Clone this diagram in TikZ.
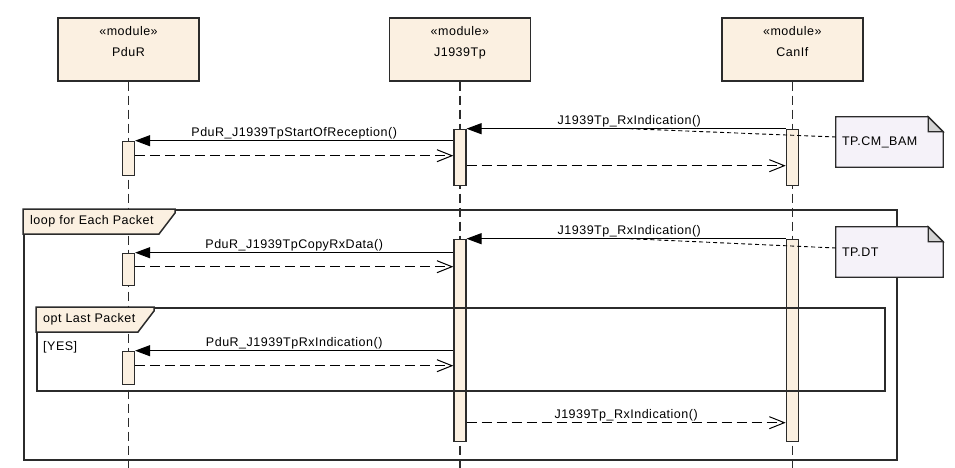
\documentclass[tikz,border=0pt]{standalone}
\usepackage{fontspec}
\newfontfamily\umlfont[LetterSpace=4]{Liberation Sans}
\usepackage{xcolor}
\usetikzlibrary{arrows.meta, positioning, calc}

\definecolor{lifebg}{HTML}{FBF0E1}
\definecolor{notebg}{HTML}{F5F2F9}
\definecolor{foldgray}{HTML}{D3D3D3}
\definecolor{framegray}{HTML}{2B2B2B}

\begin{document}
\begin{tikzpicture}[
  x=1pt, y=-1pt,
  font=\umlfont\fontsize{12.5}{15}\selectfont,
  node distance=189pt,
  head/.style={rectangle, draw=framegray, line width=1.4pt, fill=lifebg,
               minimum width=141pt, minimum height=63pt, align=center,
               font=\umlfont\fontsize{12.5}{21}\selectfont},
  bar/.style={rectangle, draw=framegray, line width=1.2pt, fill=lifebg,
              minimum width=12pt, inner sep=0pt, anchor=north},
  life/.style={framegray, line width=1.2pt, dash pattern=on 9pt off 5pt},
  call/.style={black, line width=1pt, -{Triangle[length=15pt, width=11pt]}},
  ret/.style={black, line width=1pt, dash pattern=on 10pt off 5pt,
              -{Straight Barb[length=15pt, width=12pt]}},
  msg/.style={above, inner sep=1pt},
  fragment/.style={rectangle, draw=framegray, line width=1.5pt,
                   anchor=north west, inner sep=0pt},
  tag/.style={draw=framegray, line width=1.5pt, fill=lifebg},
  tagtext/.style={anchor=west, inner sep=0pt},
  note/.style={rectangle, fill=notebg, minimum width=107pt,
               minimum height=50pt, text width=95pt, align=left,
               inner xsep=6pt},
  notebox/.style={draw=framegray, line width=1.3pt},
  notelink/.style={black, line width=0.9pt, dash pattern=on 4pt off 3pt},
]
  \useasboundingbox (0,0) rectangle (955,468);
  \coordinate (bottom) at (0,468);

  % lifeline heads
  \node[head] (pdur) at (128.5,49.5) {«module»\\PduR\\[-5pt]\mbox{}};
  \node[head, right=of pdur] (tp) {«module»\\J1939Tp\\[-5pt]\mbox{}};
  \node[head, right=190pt of tp] (canif) {«module»\\CanIf\\[-5pt]\mbox{}};

  \foreach \h in {pdur,tp,canif}
    \draw[life] (\h.south) -- (\h.south |- bottom);

  % activations
  \node[bar, minimum height=56pt] (tpA) at ([yshift=-47pt]tp.south) {};
  \node[bar, minimum height=56pt] (canA) at ([yshift=-47pt]canif.south) {};
  \node[bar, minimum height=34pt] (pdurA) at ([yshift=-59pt]pdur.south) {};
  \node[bar, minimum height=202pt] (tpB) at ([yshift=-157pt]tp.south) {};
  \node[bar, minimum height=202pt] (canB) at ([yshift=-157pt]canif.south) {};
  \node[bar, minimum height=32pt] (pdurB) at ([yshift=-171pt]pdur.south) {};
  \node[bar, minimum height=33pt] (pdurC) at ([yshift=-269pt]pdur.south) {};

  % combined fragments
  \node[fragment, minimum width=873pt, minimum height=250pt] (loop) at (23,209) {};
  \draw[tag] (loop.north west) -- ++(152,0) -- ++(0,4) -- ++(-16,21)
    -- ++(-136,0) -- cycle;
  \node[tagtext] (looplbl) at ([xshift=7pt, yshift=-12.5pt]loop.north west)
    {loop for Each Packet};

  \node[fragment, minimum width=848pt, minimum height=83pt] (opt) at (36,307) {};
  \draw[tag] (opt.north west) -- ++(118,0) -- ++(0,4) -- ++(-16,21)
    -- ++(-102,0) -- cycle;
  \node[tagtext] (optlbl) at ([xshift=7pt, yshift=-12.5pt]opt.north west)
    {opt Last Packet};
  \node[tagtext] (yes) at ([xshift=7pt, yshift=-40pt]opt.north west) {[YES]};

  % messages
  \draw[call] (canA.north west) -- node[msg, pos=0.49] {J1939Tp\_RxIndication()}
    coordinate[pos=0.49] (hookA) (tpA.north east);
  \draw[call] (tpA.west |- pdurA.north) --
    node[msg] {PduR\_J1939TpStartOfReception()} (pdurA.north east);
  \coordinate (backA) at ([yshift=-15pt]pdurA.north east);
  \draw[ret] (backA) -- (backA -| tpA.west);
  \coordinate (backB) at ([yshift=-37pt]tpA.north east);
  \draw[ret] (backB) -- (backB -| canA.west);

  \draw[call] (canB.north west) -- node[msg, pos=0.49] {J1939Tp\_RxIndication()}
    coordinate[pos=0.49] (hookB) (tpB.north east);
  \draw[call] (tpB.west |- pdurB.north) --
    node[msg] {PduR\_J1939TpCopyRxData()} (pdurB.north east);
  \coordinate (backC) at ([yshift=-14pt]pdurB.north east);
  \draw[ret] (backC) -- (backC -| tpB.west);
  \draw[call] (tpB.west |- pdurC.north) --
    node[msg] {PduR\_J1939TpRxIndication()} (pdurC.north east);
  \coordinate (backD) at ([yshift=-15pt]pdurC.north east);
  \draw[ret] (backD) -- (backD -| tpB.west);
  \coordinate (backE) at ([yshift=-184pt]tpB.north east);
  \draw[ret] (backE) -- node[msg] {J1939Tp\_RxIndication()} (backE -| canB.west);

  % notes
  \node[note] (bam) at (889.5,142) {TP.CM\_BAM};
  \node[note] (dt) at (889.5,252) {TP.DT};
  \foreach \n in {bam,dt} {
    \fill[white] ([xshift=-15pt]\n.north east) -- (\n.north east)
      -- ([yshift=-15pt]\n.north east) -- cycle;
    \draw[notebox] (\n.north west) -- ([xshift=-15pt]\n.north east)
      -- ([yshift=-15pt]\n.north east) -- (\n.south east)
      -- (\n.south west) -- cycle;
    \draw[notebox, fill=foldgray] ([xshift=-15pt]\n.north east)
      -- ([xshift=-15pt, yshift=-15pt]\n.north east)
      -- ([yshift=-15pt]\n.north east) -- cycle;
  }
  \draw[notelink] (hookA) -- ([yshift=5pt]bam.west);
  \draw[notelink] (hookB) -- ([yshift=4pt]dt.west);
\end{tikzpicture}
\end{document}
